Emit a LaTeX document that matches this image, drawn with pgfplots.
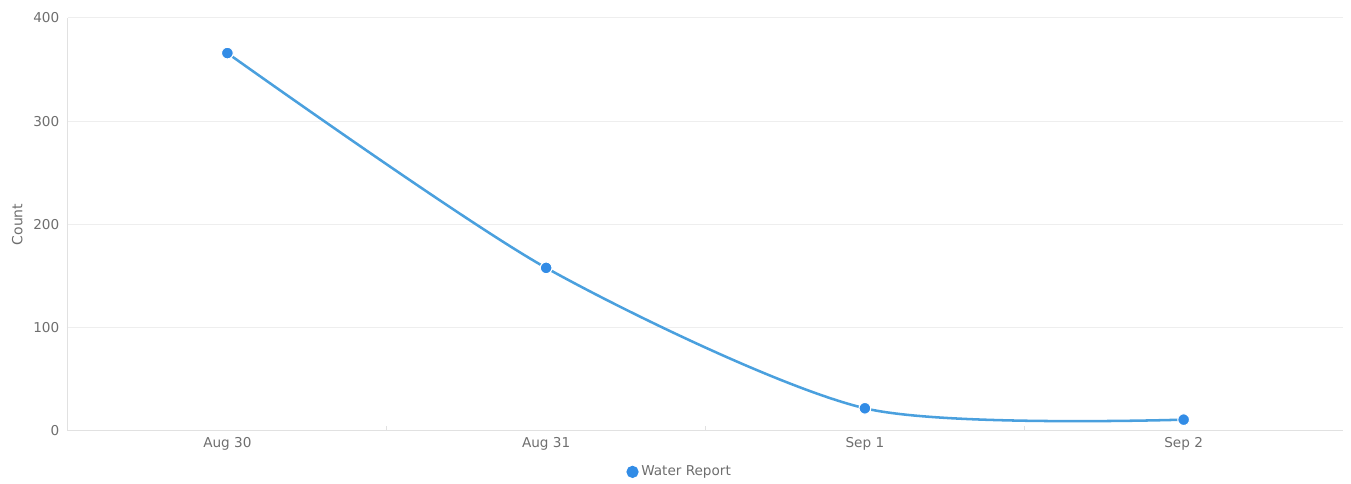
\documentclass[border=0pt]{standalone}
\usepackage{pgfplots}
\pgfplotsset{compat=1.18}
\usepackage{fontspec}
\setmainfont{DejaVu Sans}
\definecolor{linec}{RGB}{74,160,222}
\definecolor{markc}{RGB}{50,140,230}
\definecolor{txt}{RGB}{110,110,110}
\definecolor{gridc}{RGB}{238,238,238}
\definecolor{axc}{RGB}{225,225,225}
\begin{document}
\begin{tikzpicture}
\begin{axis}[
  name=ax,
  scale only axis,
  width=956.25pt, height=309.75pt,
  xmin=-0.5, xmax=3.5,
  ymin=0, ymax=400,
  xtick={0,1,2,3},
  xticklabels={Aug 30,Aug 31,Sep 1,Sep 2},
  minor xtick={0.5,1.5,2.5},
  ytick={0,100,200,300,400},
  axis x line*=bottom,
  axis y line*=left,
  axis line style={draw=axc, line width=0.75pt, -},
  ymajorgrids,
  major grid style={draw=gridc, line width=0.75pt},
  major x tick style={draw=none},
  major y tick style={draw=none},
  minor x tick style={draw=axc, line width=0.75pt},
  minor tick length=4pt,
  tick label style={font=\fontsize{10.2}{12}\selectfont, text=txt},
  /pgf/number format/assume math mode=true,
  yticklabel style={xshift=-3pt},
  xticklabel style={yshift=-1pt},
  ylabel={Count},
  ylabel style={font=\fontsize{10.5}{12}\selectfont, text=txt, at={(rel axis cs:0,0.5)}, anchor=center, yshift=38pt},
  legend style={draw=none, fill=none, font=\fontsize{10.2}{12}\selectfont, text=txt,
    at={(rel axis cs:0.48,-0.099)}, anchor=center, inner sep=0pt},
  legend cell align=left,
  legend image code/.code={\fill[markc] (0.3cm,0) circle (3.6pt);},
  clip=false,
]
\addplot[color=linec, line width=1.9pt, smooth, tension=0.45,
  mark=*, mark size=4.4pt, mark options={fill=markc, draw=white, line width=0.8pt}]
  coordinates {(0,366) (1,158) (2,22) (3,11)};
\addlegendentry{Water Report}
\end{axis}
\pgfresetboundingbox
\useasboundingbox ([xshift=-51pt,yshift=-39.75pt]ax.south west) rectangle ([xshift=6pt,yshift=13.5pt]ax.north east);
\end{tikzpicture}
\end{document}
